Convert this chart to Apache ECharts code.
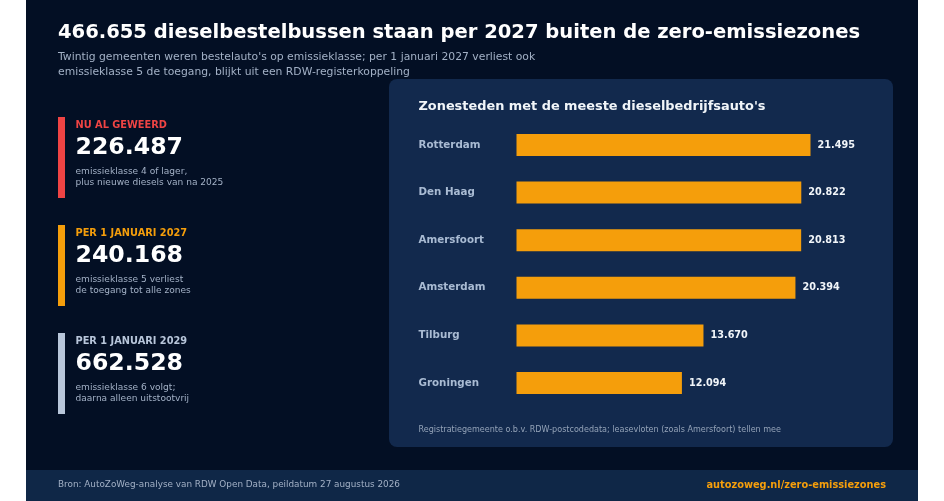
<!DOCTYPE html>
<html>
<head>
<meta charset="utf-8">
<title>Dieselbestelbussen zero-emissiezones</title>
<script src="https://cdn.jsdelivr.net/npm/echarts@6/dist/echarts.min.js"></script>
<style>
html,body{margin:0;padding:0;background:#fff;}
#main{width:944px;height:501px;}
</style>
</head>
<body>
<div id="main"></div>
<script>
var cities=['Rotterdam','Den Haag','Amersfoort','Amsterdam','Tilburg','Groningen'];
var cityValues=[21495,20822,20813,20394,13670,12094];

var statHeads=['NU AL GEWEERD','PER 1 JANUARI 2027','PER 1 JANUARI 2029'];
var statNumbers=['226.487','240.168','662.528'];
var statLines=[
	'emissieklasse 4 of lager,\nplus nieuwe diesels van na 2025',
	'emissieklasse 5 verliest\nde toegang tot alle zones',
	'emissieklasse 6 volgt;\ndaarna alleen uitstootvrij'
];
var statColors=['#ef4444','#f59e0b','#b8c6da'];
var statTops=[117,225,333];

var titleText='466.655 dieselbestelbussen staan per 2027 buiten de zero-emissiezones';
var subText="Twintig gemeenten weren bestelauto's op emissieklasse; per 1 januari 2027 verliest ook\nemissieklasse 5 de toegang, blijkt uit een RDW-registerkoppeling";
var panelTitle="Zonesteden met de meeste dieselbedrijfsauto's";
var panelNote='Registratiegemeente o.b.v. RDW-postcodedata; leasevloten (zoals Amersfoort) tellen mee';
var sourceText='Bron: AutoZoWeg-analyse van RDW Open Data, peildatum 27 augustus 2026';
var linkText='autozoweg.nl/zero-emissiezones';

var font='"DejaVu Sans"';

function txt(x,y,text,size,color,weight,align,lineHeight){
	return {
		type:'text',x:x,y:y,silent:true,z:5,
		style:{
			text:text,fontFamily:font,fontSize:size,fill:color,
			fontWeight:weight||'normal',
			textAlign:align||'left',textVerticalAlign:'middle',
			lineHeight:lineHeight||undefined
		}
	};
}

var graphics=[
	{type:'rect',shape:{x:26,y:0,width:892,height:501},style:{fill:'#030f24'},z:0,silent:true},
	{type:'rect',shape:{x:26,y:470,width:892,height:31},style:{fill:'#0f2747'},z:1,silent:true},
	{type:'rect',shape:{x:389,y:79,width:504,height:368,r:8},style:{fill:'#12294d'},z:1,silent:true},
	txt(58,32.5,titleText,19.55,'#ffffff','bold'),
	txt(58,64.5,subText,10.8,'#a3b1c6','normal','left',14.5),
	txt(418.5,107,panelTitle,12.9,'#f1f5f9','bold'),
	txt(418.5,430,panelNote,8.05,'#94a3b8'),
	txt(58,485,sourceText,8.85,'#a3b1c6'),
	txt(886,485.5,linkText,9.8,'#f59e0b','bold','right')
];

for(var i=0;i<statHeads.length;i++){
	var statTop=statTops[i];
	graphics.push({type:'rect',shape:{x:58,y:statTop,width:7,height:81},style:{fill:statColors[i]},z:2,silent:true});
	graphics.push(txt(75.5,statTop+8,statHeads[i],9.8,statColors[i],'bold'));
	graphics.push(txt(75.5,statTop+31,statNumbers[i],23.6,'#ffffff','bold'));
	graphics.push(txt(75.5,statTop+60,statLines[i],9.05,'#a3b1c6','normal','left',11.5));
}

var option={
	backgroundColor:'#ffffff',
	animation:false,
	graphic:graphics,
	grid:{left:516.5,top:121.2,width:294,height:285.6,containLabel:false},
	xAxis:{type:'value',min:0,max:21495,show:false},
	yAxis:{
		type:'category',
		inverse:true,
		z:4,
		data:cities,
		axisLine:{show:false},
		axisTick:{show:false},
		axisLabel:{
			align:'left',margin:98,
			fontFamily:font,fontSize:10.3,fontWeight:'bold',color:'#a9bbd3'
		}
	},
	series:[{
		type:'bar',
		data:cityValues,
		barWidth:22,
		itemStyle:{color:'#f59e0b'},
		label:{
			show:true,position:'right',distance:7,
			fontFamily:font,fontSize:9.7,fontWeight:'bold',color:'#f1f5f9',
			formatter:function(p){
				return String(p.value).replace(/\B(?=(\d{3})+$)/g,'.');
			}
		}
	}]
};

var chart=echarts.init(document.getElementById('main'));
chart.setOption(option);
</script>
</body>
</html>
